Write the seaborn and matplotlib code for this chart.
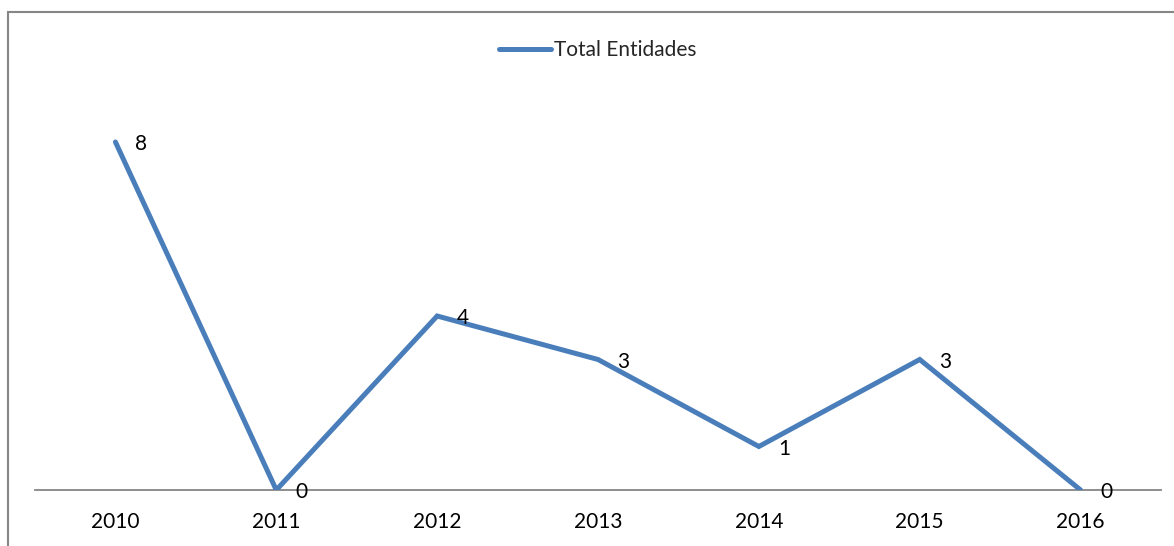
import matplotlib
matplotlib.use("Agg")
import matplotlib.pyplot as plt
import seaborn as sns
import pandas as pd
from matplotlib.patches import Rectangle
from matplotlib.lines import Line2D

years = ["2010", "2011", "2012", "2013", "2014", "2015", "2016"]
total_entidades = [8, 0, 4, 3, 1, 3, 0]
series_name = "Total Entidades"

df = pd.DataFrame({"year": years, "value": total_entidades})
df["pos"] = range(len(years))

sns.set_style("white")
plt.rcParams["font.family"] = ["Lato", "DejaVu Sans"]

W, H = 1174, 546
fig = plt.figure(figsize=(W / 100, H / 100), dpi=100)
left = 35 / W
right = 1161 / W
bottom = (H - 490) / H
top = 1 - 98.5 / H
ax = fig.add_axes([left, bottom, right - left, top - bottom])

color = "#4A7EBB"
fs = 15
lw = 3.6
sns.lineplot(data=df, x="pos", y="value", ax=ax, color=color, linewidth=lw,
             legend=False, solid_capstyle="round", solid_joinstyle="miter")

ax.set_xlim(-0.5, len(years) - 0.5)
ax.set_ylim(0, 9)
ax.set_xticks(range(len(years)))
ax.set_xticklabels(years, fontsize=fs, color="#000000")
ax.tick_params(axis="x", length=0, pad=16)
ax.set_yticks([])
ax.set_xlabel("")
ax.set_ylabel("")
for s in ["top", "right", "left"]:
    ax.spines[s].set_visible(False)
ax.spines["bottom"].set_color("#868686")
ax.spines["bottom"].set_linewidth(1.3)
ax.spines["bottom"].set_zorder(1)

for x, v in zip(df["pos"], df["value"]):
    ax.annotate(str(v), (x, v), xytext=(14, -1.5), textcoords="offset points",
                ha="left", va="center", fontsize=fs, color="#000000",
                annotation_clip=False, zorder=5)

# legend
handle = Line2D([], [], color=color, linewidth=lw, solid_capstyle="round")
fig.legend([handle], [series_name], loc="center", bbox_to_anchor=(598 / W, 1 - 50 / H),
           frameon=False, fontsize=fs, handlelength=2.5, handletextpad=0.15,
           borderpad=0)

# chart border
fig.patches.append(Rectangle((7.5 / W, -0.05), 1.2, 1 - 12 / H + 0.05,
                             transform=fig.transFigure, fill=False,
                             edgecolor="#868686", linewidth=1.5))

fig.savefig("out.png", dpi=100)
